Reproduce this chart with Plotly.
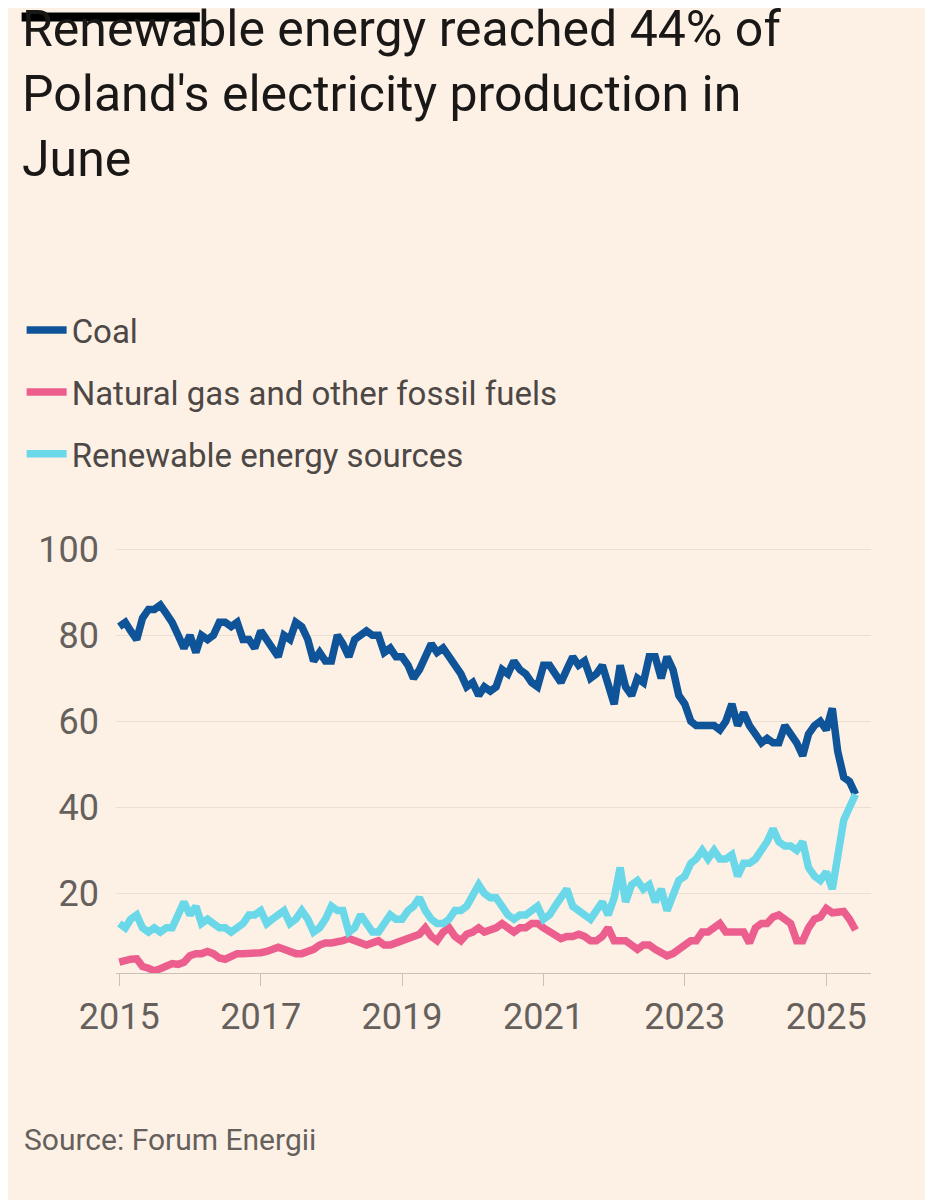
import pandas as pd
import plotly.graph_objects as go

dates = pd.date_range("2015-01-01", periods=126, freq="MS")

coal = [
    82, 83, 81, 79, 84, 86, 86, 87, 85, 83, 80, 77,
    80, 76, 80, 79, 80, 83, 83, 82, 83, 79, 79, 77,
    81, 79, 77, 75, 80, 79, 83, 82, 79, 74, 76, 74,
    74, 80, 78, 75, 79, 80, 81, 80, 80, 76, 77, 75,
    75, 73, 70, 72, 75, 78, 76, 77, 75, 73, 71, 68,
    69, 66, 68, 67, 68, 72, 71, 74, 72, 71, 69, 68,
    73, 73, 71, 69, 72, 75, 73, 74, 70, 71, 73, 68,
    64, 73, 68, 66, 70, 69, 75, 75, 70, 75, 72, 66,
    64, 60, 59, 59, 59, 59, 58, 60, 64, 59, 62, 59,
    57, 55, 56, 55, 55, 59, 57, 55, 52, 57, 59, 60,
    58, 63, 53, 47, 46, 43,
]
gas = [
    4, 4.5, 4.7, 4.8, 3, 2.6, 2, 2.5, 3, 3.7, 3.5, 4,
    5.5, 6, 6, 6.5, 6, 5, 4.7, 5.5, 6, 6, 6, 6,
    6.2, 6.5, 7, 7.5, 7, 6.5, 6, 6, 6.5, 7, 8, 8.5,
    8.5, 8.6, 9, 9.5, 9, 8.8, 8, 8.5, 9, 8, 8, 8.5,
    9, 9.5, 10, 10.5, 12, 10, 9, 11, 12, 10, 9, 10.5,
    11, 12, 11, 11.5, 12, 13, 12, 11, 12, 12, 13, 13,
    12, 11, 10, 9.5, 10, 10, 10.5, 10, 9, 9, 10, 12,
    9, 9, 9, 8, 7, 8, 8, 7, 6, 5.5, 6, 7,
    8, 9, 9, 11, 11, 12, 13, 11, 11, 11, 11, 8.5,
    12, 13, 13, 14.5, 15, 14, 13, 9, 9, 12, 14, 14.5,
    16.5, 15.5, 15.5, 15.8, 14, 11.5,
]
renew = [
    13, 12, 14, 15, 12, 11, 12, 11, 12, 12, 15, 18,
    15, 17, 13, 14, 13, 12, 12, 11, 12, 13, 15, 15,
    16, 13, 14, 15, 16, 13, 14, 16, 14, 11, 12, 14,
    17, 16, 16, 11, 12, 15, 13, 11, 11, 13, 15, 14,
    14, 16, 17, 19, 16, 14, 13, 13, 14, 16, 16, 17,
    20, 22, 20, 19, 19, 17, 15, 14, 15, 15, 16, 17,
    14, 15, 17, 19, 21, 17, 16, 15, 14, 16, 18, 15,
    19, 26, 18, 22, 23, 21, 22, 18, 21, 16, 20, 23,
    24, 27, 28, 30, 28, 30, 28, 28, 29, 24, 27, 27,
    28, 30, 32, 35, 32, 31, 31, 30, 32, 26, 24, 23,
    25, 21, 30, 37, 40, 43,
]

year_ticks = ["2015", "2017", "2019", "2021", "2023", "2025"]
y_ticks = [20, 40, 60, 80, 100]

fig = go.Figure()
for name, vals, color in [
    ("Coal", coal, "#0f5499"),
    ("Natural gas and other fossil fuels", gas, "#eb5e8d"),
    ("Renewable energy sources", renew, "#6ad8e8"),
]:
    fig.add_trace(go.Scatter(x=dates, y=vals, name=name, mode="lines", legendgroup=name,
                             line=dict(color=color, width=7.5)))

# black bar on top
fig.add_shape(type="line", xref="paper", yref="paper",
              x0=-0.125, x1=0.111, y0=2.244, y1=2.244,
              line=dict(color="black", width=9))

fig.update_layout(
    width=933, height=1200,
    paper_bgcolor="#fdf1e6", plot_bgcolor="#fdf1e6",
    font=dict(family="Roboto, Open Sans, sans-serif", color="#66605c"),
    margin=dict(l=108, r=70, t=539, b=235),
    title=dict(text="Renewable energy reached 44% of<br>Poland's electricity production in<br>June",
               x=14 / 933, xanchor="left", xref="container",
               y=1 - 38 / 1200, yanchor="top", yref="container",
               font=dict(size=50, color="#1a1817")),
    legend=dict(x=-0.125, xanchor="left", y=1.575, yanchor="top",
                font=dict(size=33, color="#4d4845"), bgcolor="rgba(0,0,0,0)",
                tracegroupgap=16, itemwidth=40),
    showlegend=True,
    xaxis=dict(tickvals=[pd.Timestamp(y + "-01-01") for y in year_ticks], ticktext=year_ticks,
               range=[pd.Timestamp("2014-12-15"), pd.Timestamp("2025-08-20")],
               showgrid=False, ticks="outside", ticklen=12, tickcolor="#ccc1b7",
               showline=True, linecolor="#ccc1b7", tickfont=dict(size=36)),
    yaxis=dict(tickvals=y_ticks, range=[1.5, 100.5], gridcolor="#ebdfd4",
               zeroline=False, ticks="", tickfont=dict(size=36), ticklabelstandoff=16),
    annotations=[dict(text="Source: Forum Energii", xref="paper", yref="paper",
                      x=-0.125, y=-0.392, xanchor="left", yanchor="middle",
                      showarrow=False, font=dict(size=30, color="#66605c"))],
)

fig.write_html("out.html")
